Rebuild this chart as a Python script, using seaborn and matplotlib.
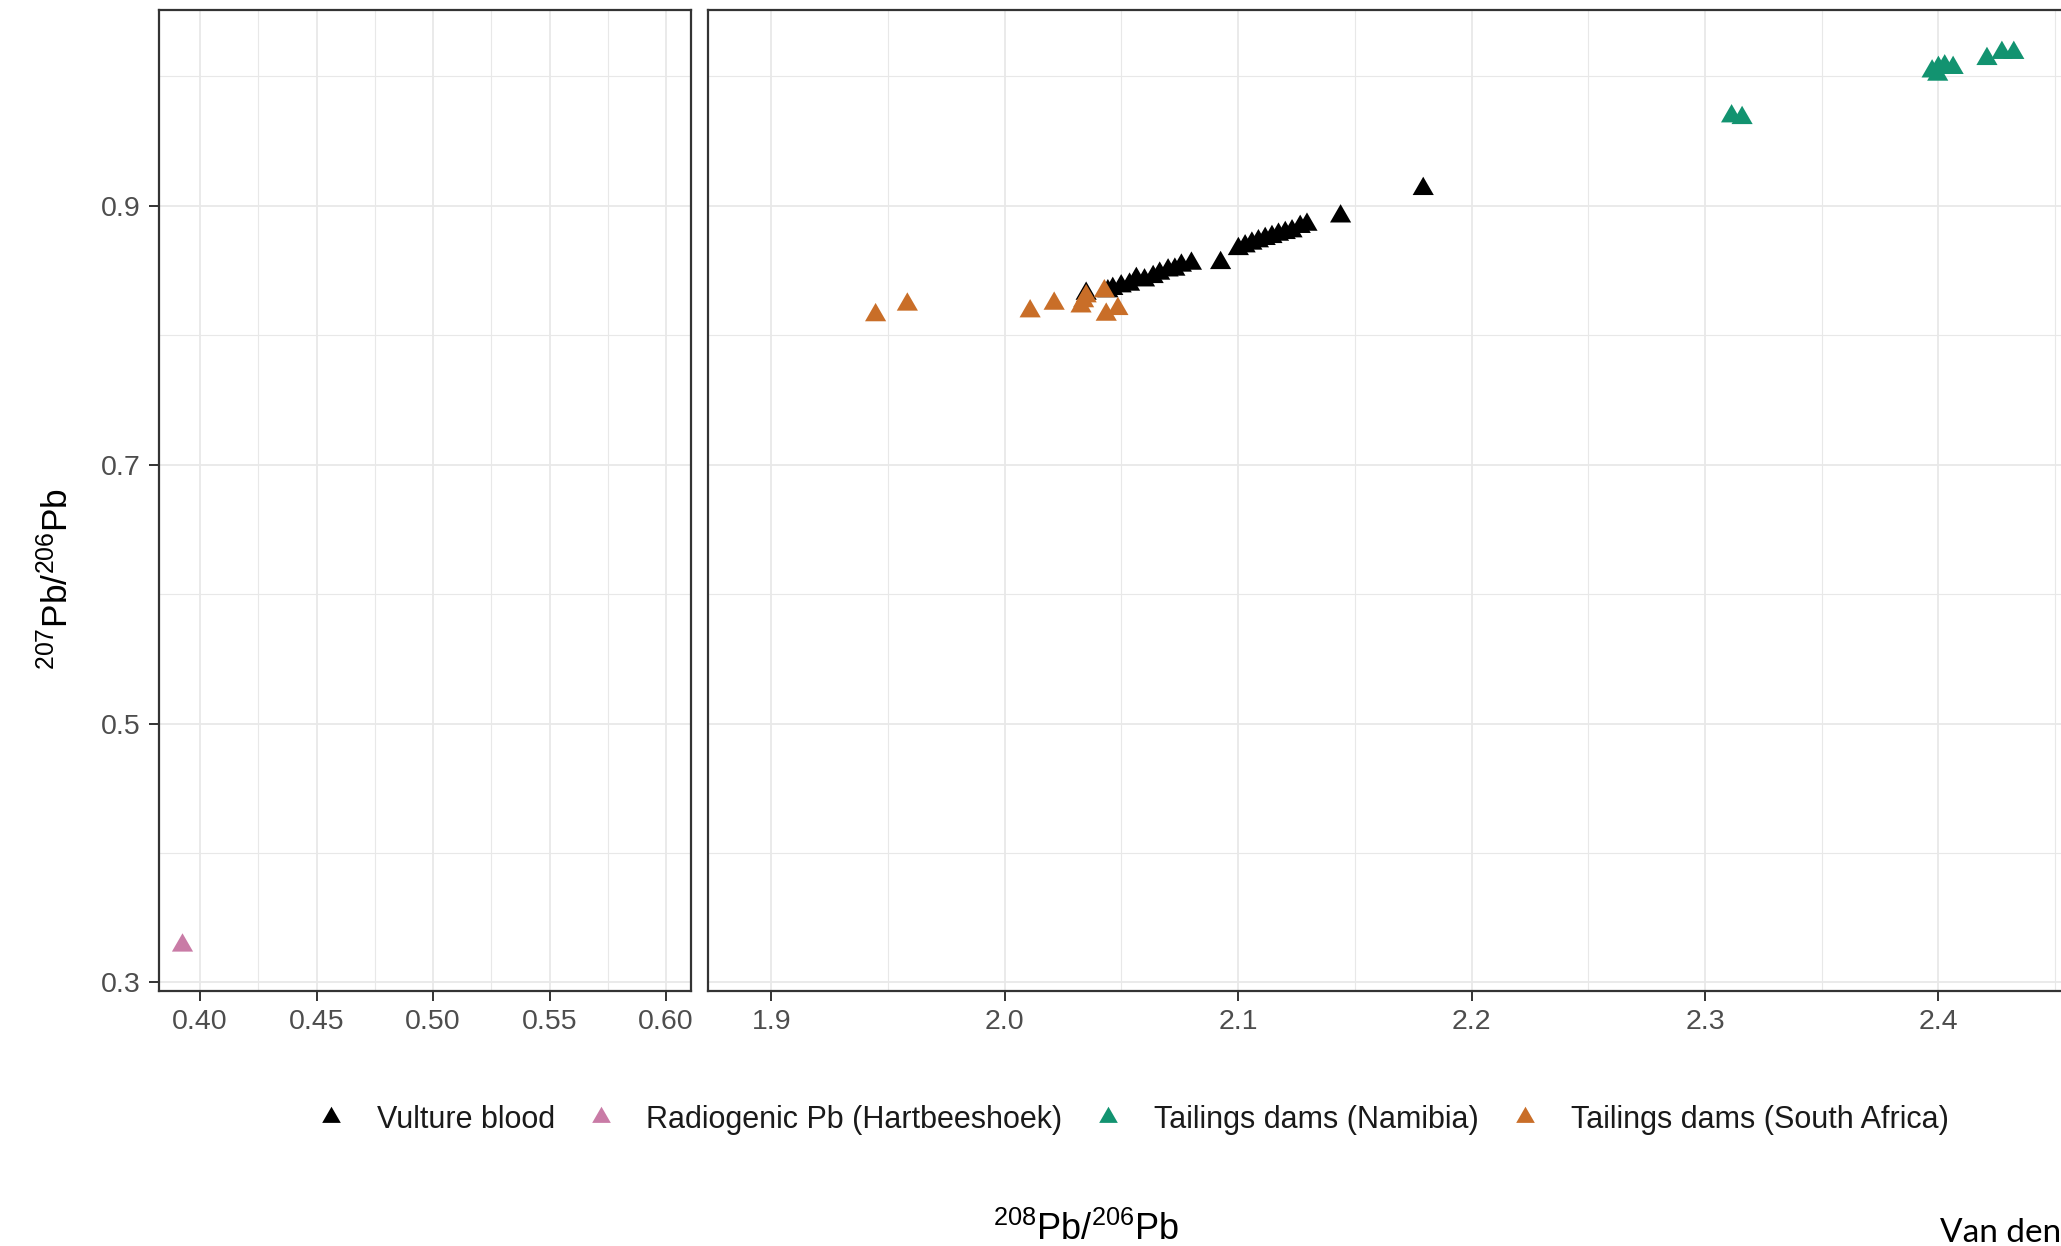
import numpy as np
import pandas as pd
import matplotlib
matplotlib.use("Agg")
import matplotlib.pyplot as plt
from matplotlib.lines import Line2D
from matplotlib.ticker import FixedLocator
import seaborn as sns

# ---------------- data ----------------
groups = ["Vulture blood", "Radiogenic Pb (Hartbeeshoek)",
          "Tailings dams (Namibia)", "Tailings dams (South Africa)"]
colors = ["#000000", "#C97BA6", "#129370", "#C96E28"]

vulture_x = [2.1793, 2.1439, 2.1295, 2.1266, 2.1231, 2.1202, 2.1173, 2.1145, 2.1116,
             2.1087, 2.1059, 2.1030, 2.1001, 2.0925, 2.0800, 2.0757, 2.0729, 2.0700,
             2.0664, 2.0636, 2.0599, 2.0564, 2.0535, 2.0499, 2.0463, 2.0442, 2.0349]
vulture_y = [0.9129, 0.8917, 0.8853, 0.8836, 0.8802, 0.8789, 0.8776, 0.8758, 0.8743,
             0.8725, 0.8707, 0.8686, 0.8665, 0.8557, 0.8552, 0.8537, 0.8506, 0.8500,
             0.8475, 0.8449, 0.8423, 0.8434, 0.8390, 0.8377, 0.8357, 0.8339, 0.8320]

radiogenic_x = [0.3923]
radiogenic_y = [0.3289]

namibia_x = [2.3114, 2.3159, 2.3973, 2.4000, 2.4027, 2.4063, 2.3997, 2.4208, 2.4272, 2.4323]
namibia_y = [0.9690, 0.9677, 1.0037, 1.0064, 1.0076, 1.0064, 1.0012, 1.0133, 1.0180, 1.0180]

southafrica_x = [1.9447, 1.9583, 2.0109, 2.0212, 2.0327, 2.0338, 2.0349, 2.0427, 2.0435, 2.0485]
southafrica_y = [0.8154, 0.8236, 0.8184, 0.8243, 0.8222, 0.8262, 0.8300, 0.8339, 0.8158, 0.8202]

left_xticks = [0.40, 0.45, 0.50, 0.55, 0.60]
left_xtick_labels = ["0.40", "0.45", "0.50", "0.55", "0.60"]
right_xticks = [1.9, 2.0, 2.1, 2.2, 2.3, 2.4]
right_xtick_labels = ["1.9", "2.0", "2.1", "2.2", "2.3", "2.4"]
yticks = [0.3, 0.5, 0.7, 0.9]
ytick_labels = ["0.3", "0.5", "0.7", "0.9"]

frames = []
for g, xs, ys, panel in [(groups[0], vulture_x, vulture_y, "high"),
                         (groups[1], radiogenic_x, radiogenic_y, "low"),
                         (groups[2], namibia_x, namibia_y, "high"),
                         (groups[3], southafrica_x, southafrica_y, "high")]:
    frames.append(pd.DataFrame({"x": xs, "y": ys, "group": g, "panel": panel}))
df = pd.concat(frames, ignore_index=True)
palette = dict(zip(groups, colors))

# ---------------- style ----------------
sns.set_theme(style="white")
plt.rcParams["font.family"] = ["Liberation Sans", "DejaVu Sans"]
plt.rcParams["mathtext.default"] = "regular"

W, H = 2061, 1246
fig = plt.figure(figsize=(W / 100, H / 100), dpi=100)

def px_rect(x0, y0, x1, y1):
    return [x0 / W, 1 - y1 / H, (x1 - x0) / W, (y1 - y0) / H]

ax1 = fig.add_axes(px_rect(159, 10, 691, 991))
ax2 = fig.add_axes(px_rect(708, 10, 2085, 991))

tri = [(0.0, 1.0), (-0.866, -0.5), (0.866, -0.5)]
msize = 310

grid_col = "#E8E8E8"
for ax, panel in [(ax1, "low"), (ax2, "high")]:
    sub = df[df["panel"] == panel]
    sns.scatterplot(data=sub, x="x", y="y", hue="group", hue_order=groups,
                    palette=palette, marker=tri, s=msize, linewidth=0,
                    legend=False, ax=ax, zorder=3)
    ax.set_xlabel("")
    ax.set_ylabel("")
    ax.set_ylim(0.2934, 1.0511)
    ax.yaxis.set_major_locator(FixedLocator(yticks))
    ax.yaxis.set_minor_locator(FixedLocator([0.4, 0.6, 0.8, 1.0]))
    ax.grid(True, which="major", color=grid_col, linewidth=1.3, zorder=0)
    ax.grid(True, which="minor", color=grid_col, linewidth=0.8, zorder=0)
    ax.set_axisbelow(True)
    for sp in ax.spines.values():
        sp.set_color("#333333")
        sp.set_linewidth(1.6)
    ax.tick_params(axis="both", which="major", length=7, width=1.4,
                   color="#333333", labelcolor="#4D4D4D", labelsize=20.5, pad=6,
                   bottom=True, left=True)
    ax.tick_params(axis="both", which="minor", length=0)

ax1.set_xlim(0.3824, 0.6107)
ax1.set_xticks(left_xticks)
ax1.set_xticklabels(left_xtick_labels)
ax1.xaxis.set_minor_locator(FixedLocator([0.425, 0.475, 0.525, 0.575]))
ax1.set_yticklabels(ytick_labels)

ax2.set_xlim(1.8729, 2.4628)
ax2.set_xticks(right_xticks)
ax2.set_xticklabels(right_xtick_labels)
ax2.xaxis.set_minor_locator(FixedLocator([1.95, 2.05, 2.15, 2.25, 2.35, 2.45]))
ax2.tick_params(axis="y", which="both", left=False, labelleft=False)

# axis titles
fig.text(57 / W, 1 - 579 / H, r"$^{207}$Pb/$^{206}$Pb", rotation=90,
         ha="center", va="center", fontsize=25.5, color="#000000")
fig.text(1086 / W, 1 - 1240 / H, r"$^{208}$Pb/$^{206}$Pb",
         ha="center", va="baseline", fontsize=26, color="#000000")

# legend
handles = [Line2D([], [], linestyle="", marker=tri, markersize=15.5,
                  markerfacecolor=c, markeredgewidth=0, color=c) for c in colors]
fig.legend(handles, groups, loc="center", ncol=4, frameon=False,
           bbox_to_anchor=(1132 / W, 1 - 1120 / H), fontsize=22,
           handlelength=1.0, handletextpad=1.0, columnspacing=1.0,
           borderpad=0, labelcolor="#1A1A1A")

fig.text(1940 / W, 1 - 1242 / H, "Van den", family=["Lato", "DejaVu Sans"],
         fontsize=24, ha="left", va="baseline", color="#000000")

fig.savefig("out.png", dpi=100)
